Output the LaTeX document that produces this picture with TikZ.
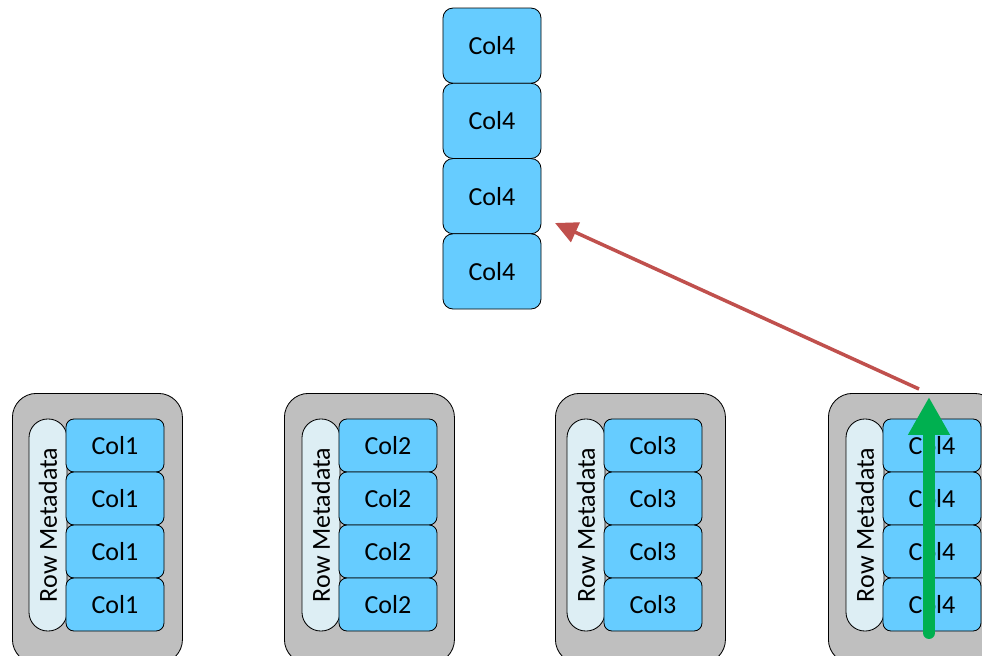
\documentclass[tikz,border=0pt]{standalone}
\usepackage{fontspec}
\setmainfont{Carlito}
\usepackage{tikz}
\usetikzlibrary{arrows.meta, positioning, calc}

\definecolor{colblue}{HTML}{66CCFF}
\definecolor{metablue}{HTML}{DDEEF4}
\definecolor{grpgray}{HTML}{BFBFBF}
\definecolor{readred}{HTML}{C0504D}
\definecolor{scangreen}{HTML}{00B050}

\tikzset{
  colbox/.style={draw=black, fill=colblue, rounded corners=0.2cm, line width=0.6pt,
    minimum width=2.45cm, minimum height=1.325cm, inner sep=0pt},
  topbox/.style={colbox, rounded corners=0.25cm, minimum height=1.88cm},
  grpbox/.style={draw=black, fill=grpgray, rounded corners=0.6cm, line width=0.6pt,
    minimum width=4.25cm, minimum height=6.75cm, inner sep=0pt},
  metabox/.style={draw=black, fill=metablue, rounded corners=0.47cm, line width=0.6pt,
    minimum width=5.3cm, minimum height=0.95cm, inner sep=0pt},
}

\begin{document}
\begin{tikzpicture}[x=0.025cm, y=-0.025cm, >=Stealth, font=\fontsize{18.5}{21}\selectfont]
			\useasboundingbox (0,0) rectangle (982,656);
			
			% Column stack
			\foreach \r in {1,...,4}
				\node[topbox] (t\r) at (492, 8+75.25*\r-37.6) {Col4};
			
			% Row groups
			\foreach \g/\x/\p in {1/12/29, 2/284/302, 3/555/567, 4/828/846} {
				\node[grpbox, anchor=north west] (g\g) at (\x,393) {};
				\node[metabox, rotate=90] (m\g) at (\p+19,525) {Row Metadata};
				\foreach \r in {1,...,4}
					\node[colbox] (c\g\r) at (\p+86, 419+53*\r-26.5) {Col\g};
			}
			
			% Read into the column stack
			\coordinate (redtail) at (919,389);
			\coordinate (redtip) at (555,223);
			\draw[-{Triangle[length=16pt, width=15pt]}, readred, line width=2.5pt] (redtail) -- (redtip);
			
			% Scan through the last group
			\coordinate (scanbot) at (929,633);
			\coordinate (scantop) at (929,397);
			\draw[-{Triangle[length=27pt, width=28pt]}, scangreen, line width=8.5pt, line cap=round] (scanbot) -- (scantop);
		\end{tikzpicture}
\end{document}
